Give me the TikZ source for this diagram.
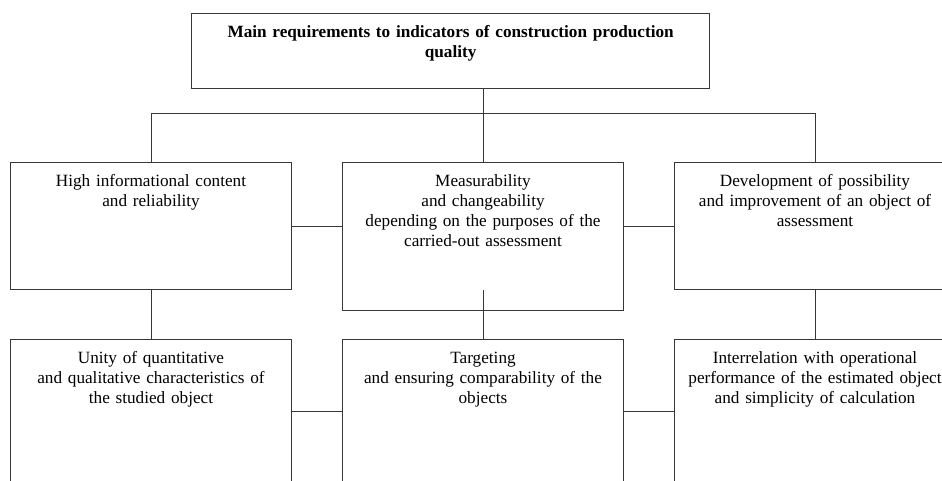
\documentclass[tikz,border=0pt]{standalone}
\usepackage{fontspec}
\setmainfont{Liberation Serif}
\usetikzlibrary{positioning}
\definecolor{linegray}{RGB}{55,55,55}
\tikzset{req node/.style={draw=linegray, line width=1pt, inner sep=0pt, text width=281pt, align=center, anchor=north west, text height=24pt, font=\fontsize{17.2}{20}\selectfont},
	link/.style={draw=linegray, line width=1pt},}

\begin{document}
\begin{tikzpicture}[x=1pt, y=-1pt]
	\path[use as bounding box, clip] (0,0) rectangle (942,481);
	\node[req node, line width=1.3pt, text width=518pt, text depth=51pt, font=\bfseries\fontsize{17.2}{20}\selectfont] (top) at (191,13) {Main requirements to indicators of construction production\\ quality};
	% first row
	\node[req node, text depth=103pt] (l1) at (10,162) {High informational content\\ and reliability};
	\node[req node, text depth=124pt, right=50pt of l1.north east, anchor=north west] (m1) {Measurability\\ and changeability\\ depending on the purposes of the\\ carried-out assessment};
	\node[req node, text depth=103pt, right=50pt of m1.north east, anchor=north west] (r1) {Development of possibility\\ and improvement of an object of\\ assessment};
	% second row
	\node[req node, text depth=120pt, below=49pt of l1.south west, anchor=north west] (l2) {Unity of quantitative\\ and qualitative characteristics of\\ the studied object};
	\node[req node, text depth=120pt, right=50pt of l2.north east, anchor=north west] (m2) {Targeting\\ and ensuring comparability of the\\ objects};
	\node[req node, text depth=120pt, right=50pt of m2.north east, anchor=north west] (r2) {Interrelation with operational\\ performance of the estimated object\\ and simplicity of calculation};

	\coordinate (bus) at ([yshift=-24pt]top.south);
	\draw[link] (top.south -| m1.north) -- (m1.north);
	\draw[link] (l1.north) |- (bus) -| (r1.north);
	\draw[link] (l1.east) -- (l1.east -| m1.west);
	\draw[link] (r1.west) -- (r1.west -| m1.east);
	\draw[link] (l1.south) -- (l2.north);
	\draw[link] (m2.north) -- (m2.north |- l1.south);
	\draw[link] (r1.south) -- (r2.north);
	\draw[link] (l2.east) -- (m2.west);
	\draw[link] (m2.east) -- (r2.west);
\end{tikzpicture}
\end{document}
